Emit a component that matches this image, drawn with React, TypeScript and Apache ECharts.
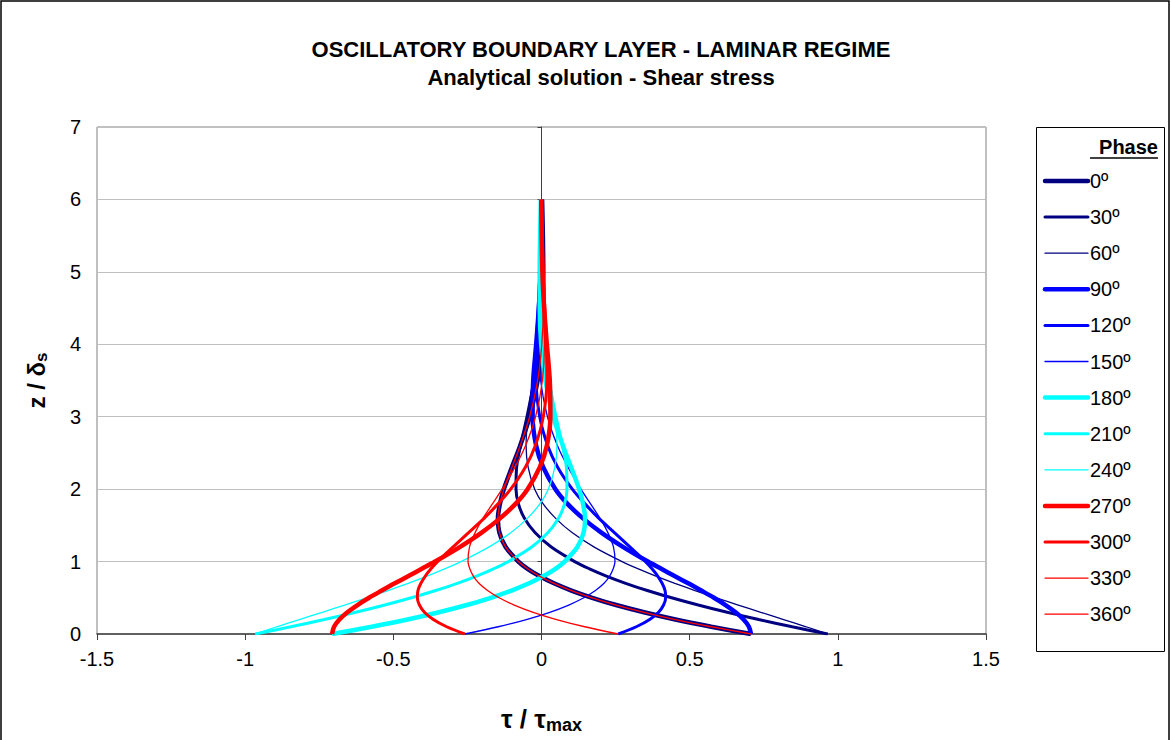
import React, { useEffect, useRef } from "react";
import * as echarts from "echarts";

const TITLE = "OSCILLATORY BOUNDARY LAYER - LAMINAR REGIME";
const SUBTITLE = "Analytical solution - Shear stress";
const LEGEND_TITLE = "Phase";

const PHASES = ["0º", "30º", "60º", "90º", "120º", "150º", "180º", "210º", "240º", "270º", "300º", "330º", "360º"];

// z / δs levels
const Z = [0, 0.1, 0.2, 0.3, 0.4, 0.5, 0.6, 0.7, 0.8, 0.9, 1.0, 1.2, 1.4, 1.6, 1.8, 2.0, 2.3, 2.6, 3.0, 3.5, 4.0, 4.5, 5.0, 6.0];

// τ / τmax per phase
const TAU_0 = [0.707, 0.573, 0.452, 0.346, 0.252, 0.171, 0.101, 0.042, -0.007, -0.047, -0.078, -0.121, -0.142, -0.147, -0.140, -0.127, -0.100, -0.072, -0.040, -0.013, 0.001, 0.006, 0.006, 0.002];
const TAU_30 = [0.966, 0.846, 0.733, 0.627, 0.529, 0.439, 0.357, 0.284, 0.219, 0.162, 0.112, 0.033, -0.022, -0.058, -0.078, -0.086, -0.084, -0.071, -0.049, -0.025, -0.008, 0.001, 0.004, 0.003];
const TAU_60 = [0.966, 0.893, 0.817, 0.740, 0.664, 0.589, 0.518, 0.450, 0.386, 0.327, 0.272, 0.178, 0.103, 0.047, 0.005, -0.023, -0.045, -0.052, -0.046, -0.030, -0.015, -0.005, 0.000, 0.002];
const TAU_90 = [0.707, 0.700, 0.682, 0.655, 0.621, 0.582, 0.539, 0.495, 0.449, 0.404, 0.359, 0.276, 0.202, 0.139, 0.087, 0.047, 0.006, -0.018, -0.030, -0.028, -0.018, -0.009, -0.003, 0.001];
const TAU_120 = [0.259, 0.320, 0.365, 0.395, 0.412, 0.419, 0.417, 0.407, 0.392, 0.373, 0.351, 0.299, 0.246, 0.193, 0.146, 0.104, 0.055, 0.021, -0.006, -0.018, -0.017, -0.011, -0.006, 0.000];
const TAU_150 = [-0.259, -0.146, -0.051, 0.028, 0.092, 0.143, 0.182, 0.211, 0.230, 0.242, 0.248, 0.243, 0.224, 0.197, 0.165, 0.133, 0.090, 0.054, 0.020, -0.003, -0.010, -0.010, -0.007, -0.001];
const TAU_180 = [-0.707, -0.573, -0.452, -0.346, -0.252, -0.171, -0.101, -0.042, 0.007, 0.047, 0.078, 0.121, 0.142, 0.147, 0.140, 0.127, 0.100, 0.072, 0.040, 0.013, -0.001, -0.006, -0.006, -0.002];
const TAU_210 = [-0.966, -0.846, -0.733, -0.627, -0.529, -0.439, -0.357, -0.284, -0.219, -0.162, -0.112, -0.033, 0.022, 0.058, 0.078, 0.086, 0.084, 0.071, 0.049, 0.025, 0.008, -0.001, -0.004, -0.003];
const TAU_240 = [-0.966, -0.893, -0.817, -0.740, -0.664, -0.589, -0.518, -0.450, -0.386, -0.327, -0.272, -0.178, -0.103, -0.047, -0.005, 0.023, 0.045, 0.052, 0.046, 0.030, 0.015, 0.005, 0.000, -0.002];
const TAU_270 = [-0.707, -0.700, -0.682, -0.655, -0.621, -0.582, -0.539, -0.495, -0.449, -0.404, -0.359, -0.276, -0.202, -0.139, -0.087, -0.047, -0.006, 0.018, 0.030, 0.028, 0.018, 0.009, 0.003, -0.001];
const TAU_300 = [-0.259, -0.320, -0.365, -0.395, -0.412, -0.419, -0.417, -0.407, -0.392, -0.373, -0.351, -0.299, -0.246, -0.193, -0.146, -0.104, -0.055, -0.021, 0.006, 0.018, 0.017, 0.011, 0.006, 0.000];
const TAU_330 = [0.259, 0.146, 0.051, -0.028, -0.092, -0.143, -0.182, -0.211, -0.230, -0.242, -0.248, -0.243, -0.224, -0.197, -0.165, -0.133, -0.090, -0.054, -0.020, 0.003, 0.010, 0.010, 0.007, 0.001];
const TAU_360 = [0.707, 0.573, 0.452, 0.346, 0.252, 0.171, 0.101, 0.042, -0.007, -0.047, -0.078, -0.121, -0.142, -0.147, -0.140, -0.127, -0.100, -0.072, -0.040, -0.013, 0.001, 0.006, 0.006, 0.002];

const TAUS = [TAU_0, TAU_30, TAU_60, TAU_90, TAU_120, TAU_150, TAU_180, TAU_210, TAU_240, TAU_270, TAU_300, TAU_330, TAU_360];

const COLORS = ["#000080", "#000080", "#000080", "#0000FF", "#0000FF", "#0000FF", "#00FFFF", "#00FFFF", "#00FFFF", "#FF0000", "#FF0000", "#FF0000", "#FF0000"];
const WIDTHS = [4.5, 3, 1.3, 4.5, 3, 1.3, 4.5, 3, 1.3, 4.5, 3, 1.3, 1.3];

const FONT = "Arial, 'Liberation Sans', sans-serif";

export default function App() {
  const ref = useRef<HTMLDivElement>(null);

  useEffect(() => {
    if (!ref.current) return;
    const chart = echarts.init(ref.current, null, { renderer: "svg" });

    const series = PHASES.map((name, k) => ({
      name,
      type: "line",
      xAxisIndex: 0,
      yAxisIndex: 0,
      data: Z.map((z, i) => [TAUS[k][i], z]),
      symbol: "none",
      smooth: 0.3,
      lineStyle: { color: COLORS[k], width: WIDTHS[k] },
      itemStyle: { color: COLORS[k] },
      emphasis: { disabled: true },
    }));

    // legend drawn by hand (line samples + labels), positioned inside the box
    const legendX = 1045;
    const legendY0 = 181;
    const legendStep = 36.1;
    const legendItems: any[] = [];
    PHASES.forEach((name, k) => {
      const y = legendY0 + legendStep * k;
      legendItems.push({
        type: "line",
        shape: { x1: legendX, y1: y, x2: legendX + 43, y2: y },
        style: { stroke: COLORS[k], lineWidth: WIDTHS[k], lineCap: "round" },
        silent: true,
      });
      legendItems.push({
        type: "text",
        x: legendX + 45,
        y,
        style: { text: name, fontFamily: FONT, fontSize: 20, fill: "#000", align: "left", verticalAlign: "middle" },
        silent: true,
      });
    });

    const option: any = {
      animation: false,
      backgroundColor: "#ffffff",
      title: {
        text: TITLE,
        subtext: SUBTITLE,
        left: 596,
        top: 33,
        textAlign: "center",
        itemGap: 6,
        textStyle: { fontFamily: FONT, fontSize: 22, fontWeight: "bold", color: "#000" },
        subtextStyle: { fontFamily: FONT, fontSize: 22, fontWeight: "bold", color: "#000" },
      },
      grid: {
        left: 97,
        right: 185,
        top: 127,
        bottom: 106,
        show: true,
        borderColor: "#808080",
        borderWidth: 1,
        backgroundColor: "transparent",
      },
      xAxis: [
        {
          type: "value",
          min: -1.5,
          max: 1.5,
          interval: 0.5,
          name: "τ / τ{sub|max}",
          nameLocation: "middle",
          nameGap: 70,
          nameTextStyle: {
            fontFamily: FONT,
            fontSize: 26,
            fontWeight: "bold",
            color: "#000",
            rich: {
              sub: { fontFamily: FONT, fontSize: 18, fontWeight: "bold", color: "#000", verticalAlign: "bottom", padding: [12, 0, 0, 0] },
            },
          },
          axisLine: { show: true, onZero: false, lineStyle: { color: "#404040", width: 1.5 } },
          axisTick: { show: true, inside: false, length: 6, lineStyle: { color: "#404040", width: 1 } },
          axisLabel: { fontFamily: FONT, fontSize: 20, color: "#000", margin: 15 },
          splitLine: { show: false },
        },
      ],
      yAxis: [
        {
          type: "value",
          min: 0,
          max: 7,
          interval: 1,
          position: "left",
          name: "z / δ{sub|s}",
          nameLocation: "middle",
          nameGap: 47,
          nameTextStyle: {
            fontFamily: FONT,
            fontSize: 24,
            fontWeight: "bold",
            color: "#000",
            rich: {
              sub: { fontFamily: FONT, fontSize: 17, fontWeight: "bold", color: "#000", verticalAlign: "bottom", padding: [10, 0, 0, 0] },
            },
          },
          axisLine: { show: false, onZero: false },
          axisTick: { show: false },
          axisLabel: { fontFamily: FONT, fontSize: 20, color: "#000", margin: 16 },
          splitLine: { show: true, lineStyle: { color: "#c0c0c0", width: 1 } },
        },
        {
          type: "value",
          min: 0,
          max: 7,
          interval: 1,
          position: "left",
          axisLine: { show: true, onZero: true, lineStyle: { color: "#404040", width: 1 } },
          axisTick: { show: true, inside: false, length: 4, lineStyle: { color: "#404040" } },
          axisLabel: { show: false },
          splitLine: { show: false },
        },
      ],
      graphic: [
        {
          type: "rect",
          shape: { x: 1, y: 1, width: 1168, height: 760 },
          style: { fill: "none", stroke: "#000", lineWidth: 1.5 },
          silent: true,
        },
        {
          type: "rect",
          shape: { x: 1036.5, y: 127.5, width: 128, height: 524 },
          style: { fill: "none", stroke: "#000", lineWidth: 1 },
          silent: true,
        },
        {
          type: "text",
          x: 1158,
          y: 147,
          style: { text: LEGEND_TITLE, fontFamily: FONT, fontSize: 20, fontWeight: "bold", fill: "#000", align: "right", verticalAlign: "middle" },
          silent: true,
        },
        {
          type: "line",
          shape: { x1: 1090, y1: 158, x2: 1158, y2: 158 },
          style: { stroke: "#000", lineWidth: 1.5 },
          silent: true,
        },
        ...legendItems,
      ],
      series,
    };

    chart.setOption(option);
    return () => chart.dispose();
  }, []);

  return (
    <div
      ref={ref}
      style={{ position: "absolute", left: 0, top: 0, width: 1171, height: 740, background: "#fff" }}
    />
  );
}
